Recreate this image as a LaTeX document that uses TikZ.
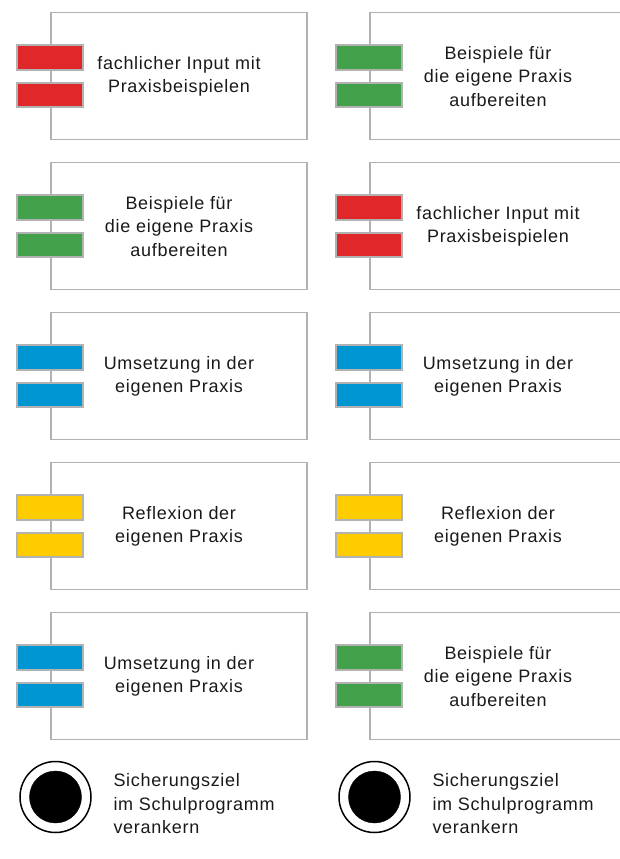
\documentclass[tikz,border=0pt]{standalone}
\usepackage{fontspec}
\setmainfont{Liberation Sans}[LetterSpace=4]
\usepackage{tikz}
\definecolor{inputrot}{HTML}{E0282A}
\definecolor{praxisgruen}{HTML}{43A04B}
\definecolor{umsetzblau}{HTML}{0096D4}
\definecolor{reflexgelb}{HTML}{FFCC00}
\definecolor{randgrau}{HTML}{B2B2B2}
\tikzset{
	feldrand/.style={draw=randgrau, line width=1.2pt},
	balken/.style={draw=randgrau, line width=1.2pt},
	feldtext/.style={align=center, text=black!90, font=\fontsize{18}{23.5}\selectfont},
	zieltext/.style={align=left, anchor=west, text=black!90, font=\fontsize{18}{23.5}\selectfont}
}
% #1 name, #2 x, #3 y (top), #4 colour, #5 text
\newcommand{\praxisfeld}[5]{%
	\draw[feldrand] (#2,#3) rectangle ++(256,127);
	\draw[balken, fill=#4] ($(#2,#3)+(-34,32.5)$) rectangle ++(66,25);
	\draw[balken, fill=#4] ($(#2,#3)+(-34,70.5)$) rectangle ++(66,24);
	\node[feldtext] (#1) at ($(#2,#3)+(128,64)$) {#5};
}
\usetikzlibrary{calc}

\begin{document}
\begin{tikzpicture}[x=1pt, y=-1pt]
	%%%%% START %%%%%
	\useasboundingbox (0,0) rectangle (620,859);
	
	% linke Spalte
	\praxisfeld{inputL}{51}{12.5}{inputrot}{fachlicher Input mit\\Praxisbeispielen}
	\praxisfeld{beispielL}{51}{162.5}{praxisgruen}{Beispiele für\\die eigene Praxis\\aufbereiten}
	\praxisfeld{umsetzungL}{51}{312.5}{umsetzblau}{Umsetzung in der\\eigenen Praxis}
	\praxisfeld{reflexionL}{51}{462.5}{reflexgelb}{Reflexion der\\eigenen Praxis}
	\praxisfeld{umsetzungLb}{51}{612.5}{umsetzblau}{Umsetzung in der\\eigenen Praxis}
	
	% rechte Spalte
	\praxisfeld{beispielR}{370}{12.5}{praxisgruen}{Beispiele für\\die eigene Praxis\\aufbereiten}
	\praxisfeld{inputR}{370}{162.5}{inputrot}{fachlicher Input mit\\Praxisbeispielen}
	\praxisfeld{umsetzungR}{370}{312.5}{umsetzblau}{Umsetzung in der\\eigenen Praxis}
	\praxisfeld{reflexionR}{370}{462.5}{reflexgelb}{Reflexion der\\eigenen Praxis}
	\praxisfeld{beispielRb}{370}{612.5}{praxisgruen}{Beispiele für\\die eigene Praxis\\aufbereiten}
	
	% Sicherungsziel
	\draw[line width=1.5pt] (55.5, 797) circle (35.5);
	\draw[fill=black] (55.5, 797) circle (26);
	\node[zieltext] (zielL) at (110, 804) {Sicherungsziel\\im Schulprogramm\\verankern};
	
	\draw[line width=1.5pt] (374.5, 797) circle (35.5);
	\draw[fill=black] (374.5, 797) circle (26);
	\node[zieltext] (zielR) at (429, 804) {Sicherungsziel\\im Schulprogramm\\verankern};
	
	%%%%% END %%%%%
\end{tikzpicture}
\end{document}
